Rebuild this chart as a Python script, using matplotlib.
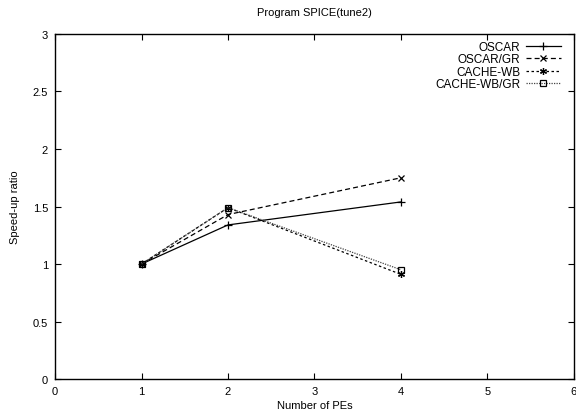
import numpy as np
import matplotlib.pyplot as plt

plt.rcParams['font.family'] = ['Liberation Sans', 'DejaVu Sans']
plt.rcParams['font.size'] = 8

# data
pes = [1, 2, 4]
oscar = [1.0, 1.34, 1.54]
oscar_gr = [1.0, 1.43, 1.75]
cache_wb = [1.0, 1.49, 0.91]
cache_wb_gr = [1.0, 1.49, 0.95]

fig = plt.figure(figsize=(5.76, 4.14), dpi=100)
ax = fig.add_axes([0.0955, 0.082, 0.901, 0.8335])

lw = 0.9
ax.plot(pes, oscar, color='black', lw=lw, ls='-', marker='+', ms=6, mew=0.9, label='OSCAR')
ax.plot(pes, oscar_gr, color='black', lw=lw, ls=(0, (4, 2.5)), marker='x', ms=4.5, mew=0.9, label='OSCAR/GR')
ax.plot(pes, cache_wb, color='black', lw=lw, ls=(0, (2, 2)), marker=(6, 2, 0), ms=5, mew=0.9, label='CACHE-WB')
ax.plot(pes, cache_wb_gr, color='#444444', lw=lw, ls=(0, (1, 1)), marker='s', ms=4.5, mfc='none',
        mec='black', mew=0.9, label='CACHE-WB/GR')

ax.set_xlim(0, 6)
ax.set_ylim(0, 3)
ax.set_xticks(range(0, 7))
ax.set_yticks([0, 0.5, 1, 1.5, 2, 2.5, 3])
ax.set_yticklabels(['0', '0.5', '1', '1.5', '2', '2.5', '3'])
ax.tick_params(direction='in', top=True, right=True, length=4, width=0.8, labelsize=8, pad=5)
for s in ax.spines.values():
    s.set_linewidth(1.0)

ax.set_xlabel('Number of PEs', fontsize=8, labelpad=3)
ax.set_ylabel('Speed-up ratio', fontsize=8, labelpad=9)
ax.set_title('Program SPICE(tune2)', fontsize=8, pad=14)

leg = ax.legend(loc='upper right', markerfirst=False, frameon=False, fontsize=8.5,
                handlelength=2.9, handletextpad=0.5, labelspacing=0.04,
                borderaxespad=0.3, bbox_to_anchor=(0.99, 1.004))
for t in leg.get_texts():
    t.set_ha('right')
leg._legend_box.align = 'right'

fig.savefig('out.png', dpi=100)
